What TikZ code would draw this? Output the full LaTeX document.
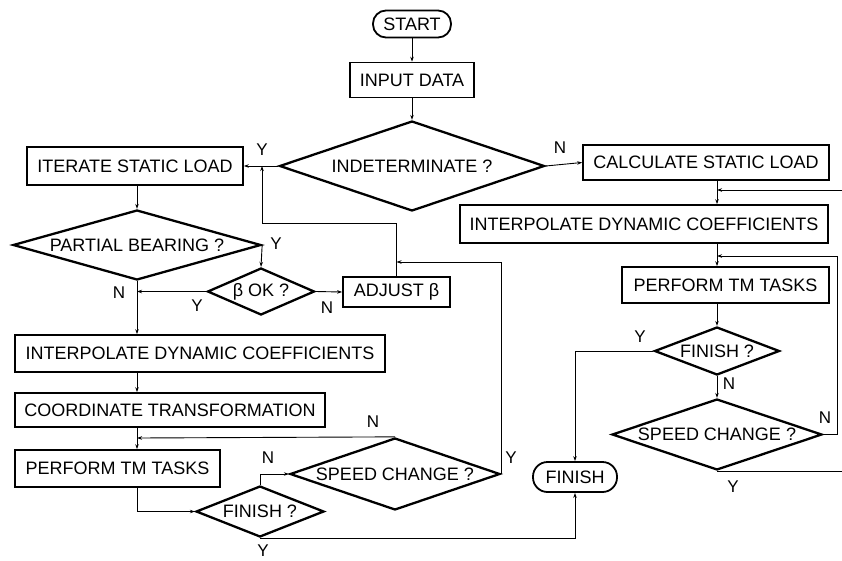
\documentclass[tikz,border=0pt]{standalone}
\usepackage{fontspec}
\setmainfont{Liberation Sans}
\usetikzlibrary{shapes.geometric,arrows.meta}
\begin{document}
\begin{tikzpicture}[x=1pt,y=-1pt,
  every node/.style={font=\fontsize{18}{21}\selectfont},
  box/.style 2 args={draw,line width=1.7pt,inner sep=0pt,minimum width=#1,minimum height=#2},
  term/.style 2 args={draw,line width=1.8pt,inner sep=0pt,rounded corners=#2/2-0.5pt,minimum width=#1,minimum height=#2},
  dec/.style n args={3}{draw,diamond,line width=2.3pt,inner sep=0pt,minimum width=#1,minimum height=#2,shape aspect=#3},
  conn/.style={line width=0.9pt},
  arr/.style={conn,-{Stealth[length=5pt,width=3.5pt]}},
  lab/.style={font=\fontsize{17}{19}\selectfont,inner sep=0pt}]

% page
\fill[white] (0,0) rectangle (842,560);
\useasboundingbox (0,0) rectangle (842,560);
\clip (0,0) rectangle (842,560);

% main column
\node[term={78}{27}] (start) at (412,24) {START};
\node[box={124}{35}] (input) at (412,80) {INPUT DATA};
\node[dec={265}{90}{2.94}] (indet) at (412,166) {INDETERMINATE ?};

% indeterminate branch
\node[box={216}{38}] (iter) at (135,166) {ITERATE STATIC LOAD};
\node[dec={248}{70}{3.54}] (pbear) at (137,245) {PARTIAL BEARING ?};
\node[dec={107}{47}{2.28}] (betaok) at (261,291.5) {β OK ?};
\node[box={107}{30}] (adjust) at (396.5,292) {ADJUST β};
\node[box={370}{37}] (interpL) at (200,353.5) {INTERPOLATE DYNAMIC COEFFICIENTS};
\node[box={310}{34}] (coord) at (170,410) {COORDINATE TRANSFORMATION};
\node[box={205}{37}] (performL) at (117.5,468.5) {PERFORM TM TASKS};
\node[dec={210}{72}{2.92}] (speedL) at (395,474) {SPEED CHANGE ?};
\node[dec={128}{51}{2.5}] (finishL) at (260,511.5) {FINISH ?};

% end of run
\node[term={84}{30}] (finishO) at (575,477) {FINISH};

% determinate branch
\node[box={246}{35}] (calc) at (706,162.5) {CALCULATE STATIC LOAD};
\node[box={368}{38}] (interpR) at (644,224) {INTERPOLATE DYNAMIC COEFFICIENTS};
\node[box={207}{36}] (performR) at (725.5,285) {PERFORM TM TASKS};
\node[dec={125}{48}{2.6}] (finishR) at (717,351) {FINISH ?};
\node[dec={210}{71}{2.96}] (speedR) at (717,434.5) {SPEED CHANGE ?};

% helper points
\coordinate (jY) at (262,166);
\coordinate (bA) at (262,223);
\coordinate (jA) at (396.5,262);
\coordinate (jN) at (137,438);
\coordinate (colR) at (717,0);
\coordinate (jR1) at (717,190);
\coordinate (jR2) at (717,256);
\coordinate (bR1) at (870,190);
\coordinate (bR2) at (837,256);

% connectors, main column
\draw[arr] (start.south) -- (input.north);
\draw[arr] (input.south) -- (indet.north);
\draw[arr] (indet.west) -- (iter.east);
\draw[arr] (indet.east) -- (calc.west);

% connectors, indeterminate branch
\draw[arr] (iter.south -| pbear.north) -- (pbear.north);
\draw[arr] (pbear.east) -- (betaok.north);
\draw[arr] (betaok.east) -- (adjust.west);
\draw[arr] (betaok.west) -- (pbear.south |- betaok.west);
\draw[arr] (adjust.north) |- (bA) -- (jY);
\draw[arr] (speedL.east) |- (jA);
\draw[arr] (pbear.south) -- (pbear.south |- interpL.north);
\draw[arr] (pbear.south |- interpL.south) -- (pbear.south |- coord.north);
\draw[arr] (pbear.south |- coord.south) -- (pbear.south |- performL.north);
\draw[arr] (speedL.north) -- (jN);
\draw[arr] (pbear.south |- performL.south) |- (finishL.west);
\draw[arr] (finishL.north) |- (speedL.west);
\draw[arr] (finishL.south) -| (finishO.south);

% connectors, determinate branch
\draw[arr] (calc.south -| colR) -- (interpR.north -| colR);
\draw[arr] (interpR.south -| colR) -- (performR.north -| colR);
\draw[arr] (performR.south -| colR) -- (finishR.north);
\draw[arr] (finishR.west) -| (finishO.north);
\draw[arr] (finishR.south) -- (speedR.north);
\draw[arr] (speedR.east) -| (bR2) -- (jR2);
\draw[arr] (speedR.south) -| (bR1) -- (jR1);

% branch labels
\node[lab] (l1) at (262,150) {Y};
\node[lab] (l2) at (560,148) {N};
\node[lab] (l3) at (276,244) {Y};
\node[lab] (l4) at (119,293) {N};
\node[lab] (l5) at (197,306) {Y};
\node[lab] (l6) at (327,308) {N};
\node[lab] (l7) at (373,422) {N};
\node[lab] (l8) at (268,458) {N};
\node[lab] (l9) at (511,458) {Y};
\node[lab] (l10) at (263,551) {Y};
\node[lab] (l11) at (640,337) {Y};
\node[lab] (l12) at (729,384) {N};
\node[lab] (l13) at (825,418) {N};
\node[lab] (l14) at (733,487) {Y};
\end{tikzpicture}
\end{document}
